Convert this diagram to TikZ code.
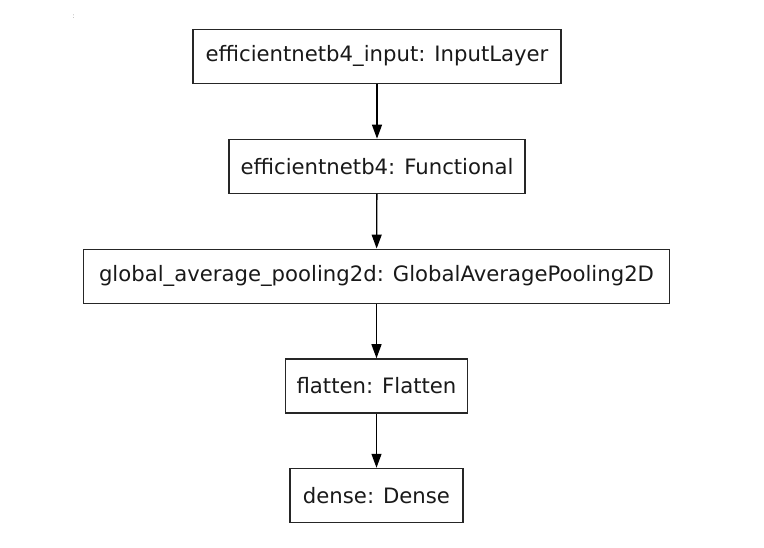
\documentclass[tikz,border=0pt]{standalone}
\usepackage{fontspec}
\setmainfont{DejaVu Sans}
\usetikzlibrary{arrows.meta}
\begin{document}
\begin{tikzpicture}[x=1pt,y=-1pt,
  layerbox/.style={draw=black!85, line width=1.3pt, fill=white, minimum height=54pt,
    inner sep=0pt, font=\fontsize{21.2pt}{25pt}\selectfont, text=black!90},
  flow/.style={line width=1.3pt, draw=black, -{Triangle[length=14pt,width=10pt]}}]
\useasboundingbox[fill=white] (0,0) rectangle (764,548);
\node[text=black!35, font=\fontsize{7pt}{8pt}\selectfont, inner sep=0pt] (dot) at (73.5,17) {:};
\node[layerbox, minimum width=368pt] (inp) at (377,56.3) {efficientnetb4\_input: InputLayer};
\node[layerbox, minimum width=296pt] (eff) at (377,166.3) {efficientnetb4: Functional};
\node[layerbox, minimum width=586pt] (gap) at (376.5,276.2) {global\_average\_pooling2d: GlobalAveragePooling2D};
\node[layerbox, minimum width=182pt] (fla) at (376.5,385.9) {flatten: Flatten};
\node[layerbox, minimum width=173pt] (den) at (376.5,495.4) {dense: Dense};
\draw[flow] (inp) -- (eff);
\draw[flow] (eff) -- (gap);
\draw[flow] (gap) -- (fla);
\draw[flow] (fla) -- (den);
\end{tikzpicture}
\end{document}
